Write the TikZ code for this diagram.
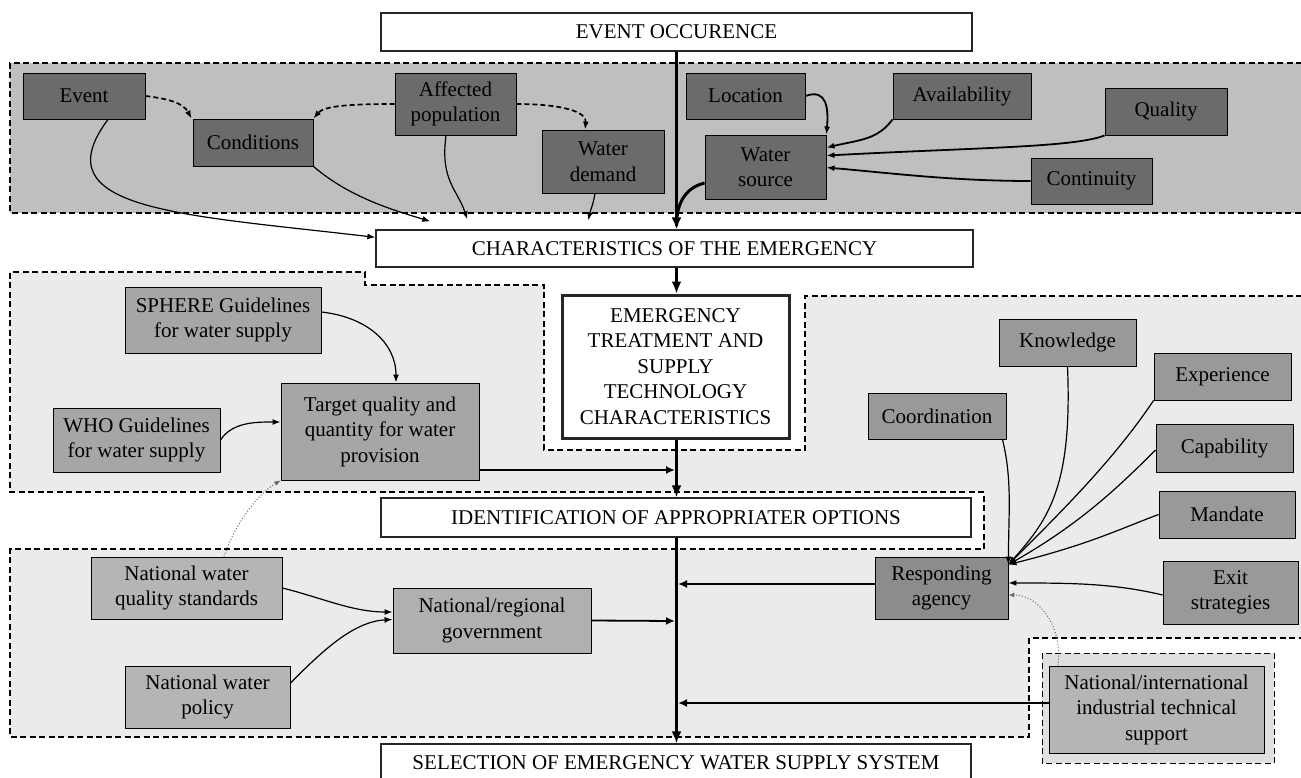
\documentclass[tikz,border=0pt]{standalone}
\usepackage{fontspec}
\setmainfont{Liberation Serif}
\usetikzlibrary{arrows.meta}

\tikzset{
  basebox/.style    = {draw=black, line width=0.9pt, inner sep=0pt, align=center,
                       font=\fontsize{21pt}{25.5pt}\selectfont},
  factorbox/.style  = {basebox, fill=black!58},
  inputbox/.style   = {basebox, fill=black!35},
  stagebox/.style   = {basebox, fill=white, draw=black!85, line width=1.3pt},
  regionline/.style = {line width=1.3pt, dash pattern=on 6pt off 3.5pt},
  edgeline/.style   = {line width=1.2pt, -{Latex[length=8pt,width=6pt]}},
  dashedge/.style   = {edgeline, line width=1.7pt, dash pattern=on 5pt off 3pt},
  dotedge/.style    = {line width=1pt, black!60, dotted, -{Latex[length=6pt,width=5pt]}},
  mainflow/.style   = {line width=2.8pt, -{Latex[length=12pt,width=10pt]}},
  sideflow/.style   = {line width=1.8pt, -{Latex[length=9pt,width=8pt]}},
}

\begin{document}
\begin{tikzpicture}[x=1pt, y=-1pt]
  \useasboundingbox (0,0) rectangle (1301,778);

  % Regions
  \fill[black!25] (10,63) rectangle (1302,213);
  \draw[regionline] (1302,63) -- (10,63) -- (10,213) -- (1302,213);
  \fill[black!8] (10,272) -- (365,272) -- (365,285) -- (544,285) -- (544,450)
    -- (805,450) -- (805,296) -- (1302,296) -- (1302,638) -- (1029,638)
    -- (1029,737) -- (10,737) -- (10,549) -- (984,549) -- (984,492)
    -- (10,492) -- cycle;
  \draw[regionline] (1302,296) -- (805,296) -- (805,450) -- (544,450)
    -- (544,285) -- (365,285) -- (365,272) -- (10,272) -- (10,492)
    -- (984,492) -- (984,549) -- (10,549) -- (10,737) -- (1029,737)
    -- (1029,638) -- (1302,638);
  \draw[regionline, line width=1pt, fill=black!12] (1042,653) rectangle (1274,763);

  % Define nodes
  \node[stagebox, minimum width=591pt, minimum height=38pt] (occ) at (676.5,32) {EVENT OCCURENCE};
  \node[stagebox, minimum width=597pt, minimum height=37pt] (chr) at (674.5,248.5) {CHARACTERISTICS OF THE EMERGENCY};
  \node[stagebox, line width=3pt, minimum width=227pt, minimum height=143pt] (tec) at (675.5,366.5)
    {EMERGENCY\\TREATMENT AND\\SUPPLY\\TECHNOLOGY\\CHARACTERISTICS};
  \node[stagebox, minimum width=590pt, minimum height=39pt] (opt) at (676,517.5) {IDENTIFICATION OF APPROPRIATER OPTIONS};
  \node[stagebox, minimum width=590pt, minimum height=38pt] (sel) at (676,763) {SELECTION OF EMERGENCY WATER SUPPLY SYSTEM};
  \coordinate (mid) at (676.5,0);

  % Emergency factors
  \node[factorbox, minimum width=122pt, minimum height=46pt] (evt) at (84,96)      {Event};
  \node[factorbox, minimum width=120pt, minimum height=47pt] (cnd) at (253,142.5)  {Conditions};
  \node[factorbox, minimum width=121pt, minimum height=62pt] (pop) at (455.5,104)  {Affected\\population};
  \node[factorbox, minimum width=122pt, minimum height=63pt] (dem) at (603,161.5)  {Water\\demand};
  \node[factorbox, minimum width=119pt, minimum height=46pt] (loc) at (745.5,96)   {Location};
  \node[factorbox, minimum width=121pt, minimum height=64pt] (src) at (765.5,167)  {Water\\source};
  \node[factorbox, minimum width=138pt, minimum height=46pt] (avl) at (962,96)     {Availability};
  \node[factorbox, minimum width=122pt, minimum height=47pt] (qlt) at (1166,111.5) {Quality};
  \node[factorbox, minimum width=121pt, minimum height=46pt] (cnt) at (1091.5,181) {Continuity};

  % Guidelines
  \node[inputbox, minimum width=196pt, minimum height=66pt] (sph) at (223,320)    {SPHERE Guidelines\\for water supply};
  \node[inputbox, minimum width=167pt, minimum height=64pt] (who) at (136.5,440)  {WHO Guidelines\\for water supply};
  \node[inputbox, minimum width=198pt, minimum height=97pt] (tgt) at (380,431.5)  {Target quality and\\quantity for water\\provision};

  % Agency
  \node[inputbox, fill=black!40, minimum width=137pt, minimum height=47pt] (knw) at (1067.5,342.5) {Knowledge};
  \node[inputbox, fill=black!40, minimum width=137pt, minimum height=47pt] (exp) at (1222.5,376.5) {Experience};
  \node[inputbox, fill=black!40, minimum width=138pt, minimum height=46pt] (crd) at (937,416)     {Coordination};
  \node[inputbox, fill=black!40, minimum width=137pt, minimum height=48pt] (cap) at (1224.5,448)  {Capability};
  \node[inputbox, fill=black!40, minimum width=136pt, minimum height=47pt] (man) at (1227,514.5)  {Mandate};
  \node[inputbox, fill=black!45, minimum width=133pt, minimum height=62pt] (rsp) at (941.5,588)   {Responding\\agency};
  \node[inputbox, fill=black!40, minimum width=135pt, minimum height=63pt] (ext) at (1230.5,592.5) {Exit\\strategies};

  % National level
  \node[inputbox, fill=black!29, minimum width=191pt, minimum height=62pt] (nqs) at (186.5,588)  {National water\\quality standards};
  \node[inputbox, fill=black!31, minimum width=198pt, minimum height=65pt] (gov) at (492,620.5)  {National/regional\\government};
  \node[inputbox, fill=black!29, minimum width=165pt, minimum height=62pt] (pol) at (207.5,697)  {National water\\policy};
  \node[inputbox, fill=black!29, minimum width=215pt, minimum height=87pt] (sup) at (1156.5,709.5)
    {National/international\\industrial technical\\support};

  % Main line
  \coordinate (mS) at (676.5,226);
  \coordinate (mT) at (675,470);
  \coordinate (mR) at (678,584);
  \coordinate (mG) at (675,621);
  \coordinate (mN) at (678,703);
  \draw[mainflow] (occ.south) -- (mid |- chr.north);
  \draw[mainflow] (mid |- chr.south) -- (mid |- tec.north);
  \draw[mainflow] (mid |- tec.south) -- (mid |- opt.north);
  \draw[mainflow] (mid |- opt.south) -- (mid |- sel.north);

  % Connect the nodes
  \draw[edgeline] ([xshift=24pt]evt.south) .. controls +(-68,91) and +(-195,-23) .. ([yshift=-8pt]chr.north west);
  \draw[edgeline] (cnd.south east) .. controls +(35,30) and +(-40,-12) .. ([xshift=55pt,yshift=8pt]chr.north west);
  \draw[edgeline] ([xshift=-9.5pt]pop.south) .. controls +(-6,45) and +(-10,-30) .. ([xshift=92pt,yshift=10pt]chr.north west);
  \draw[edgeline] ([xshift=-8pt]dem.south) .. controls +(-2,12) and +(2,-10) .. ([xshift=213pt,yshift=9pt]chr.north west);
  \draw[dashedge] (evt.east) .. controls +(25,3) and +(-8,-15) .. ([xshift=-1pt]cnd.north west);
  \draw[dashedge] (pop.west) .. controls +(-50,0) and +(10,-12) .. (cnd.north east);
  \draw[dashedge] (pop.east) .. controls +(45,0) and +(2,-18) .. ([xshift=-18pt]dem.north);

  % Water source
  \draw[edgeline, line width=1.8pt] (loc.east) .. controls +(22,-8) and +(2,-25) .. (src.north east);
  \draw[edgeline, line width=1.8pt] (avl.south west) .. controls +(-15,20) and +(35,-8) .. ([yshift=-13pt]src.north east);
  \draw[edgeline, line width=1.8pt] (qlt.south west) .. controls +(-30,12) and +(150,-8) .. ([yshift=-21pt]src.north east);
  \draw[edgeline, line width=1.8pt] (cnt.west) .. controls +(-80,0) and +(60,5) .. ([yshift=-33pt]src.north east);
  \draw[line width=3pt] ([yshift=-16pt]src.west) .. controls +(-20,5) and +(0,-22) .. (mS);

  % Guidelines and national level
  \draw[edgeline] ([yshift=8pt]sph.east) .. controls +(45,5) and +(0,-40) .. ([xshift=16pt]tgt.north);
  \draw[edgeline] (who.east) .. controls +(12,-18) and +(-25,0) .. ([yshift=9.5pt]tgt.west);
  \draw[sideflow] ([yshift=-38.5pt]tgt.east) -- (mT);
  \draw[dotedge] ([xshift=37.5pt]nqs.north) .. controls +(10,-30) and +(-25,15) .. (tgt.south west);
  \draw[edgeline] (nqs.east) .. controls +(40,10) and +(-40,0) .. ([yshift=8.5pt]gov.west);
  \draw[edgeline] ([yshift=14pt]pol.east) .. controls +(30,-30) and +(-40,2) .. ([yshift=1pt]gov.west);
  \draw[sideflow] (gov.east) -- (mG);

  % Agency
  \draw[edgeline] ([xshift=-4pt]crd.south east) .. controls +(10,40) and +(0,-50) .. ([yshift=-8pt]rsp.north east);
  \draw[edgeline] (knw.south) .. controls +(5,120) and +(40,-45) .. ([yshift=-8pt]rsp.north east);
  \draw[edgeline] (exp.south west) .. controls +(-40,60) and +(50,-50) .. ([yshift=-8pt]rsp.north east);
  \draw[edgeline] ([yshift=-2pt]cap.west) .. controls +(-40,40) and +(70,-40) .. ([yshift=-8pt]rsp.north east);
  \draw[edgeline] (man.west) .. controls +(-40,15) and +(80,-20) .. ([yshift=-8pt]rsp.north east);
  \draw[edgeline] ([yshift=-2.5pt]ext.west) .. controls +(-50,-12) and +(60,0) .. ([yshift=5pt]rsp.east);
  \draw[dotedge] ([xshift=-98.5pt]sup.north) .. controls +(5,-40) and +(30,0) .. ([yshift=-7pt]rsp.east);
  \draw[sideflow] ([yshift=4pt]rsp.west) -- (mR);
  \draw[sideflow] ([yshift=6.5pt]sup.west) -- (mN);

\end{tikzpicture}
\end{document}
